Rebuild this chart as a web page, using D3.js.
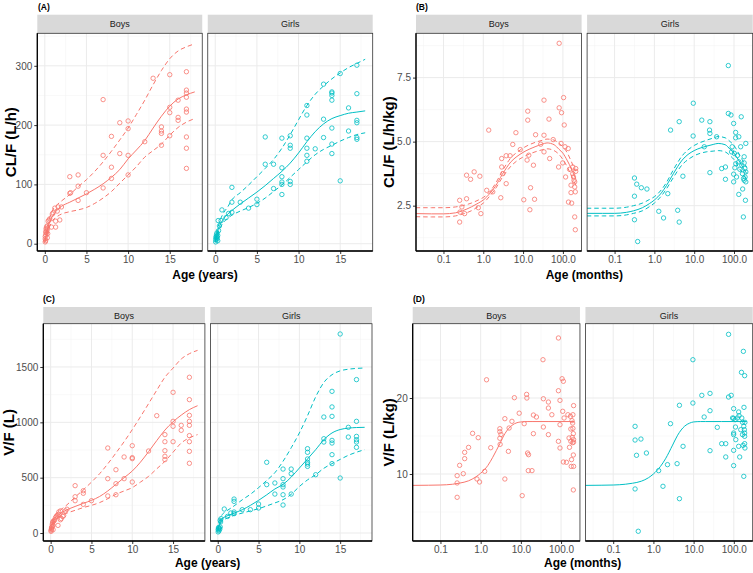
<!DOCTYPE html>
<html>
<head>
<meta charset="utf-8">
<script src="https://cdn.jsdelivr.net/npm/d3@7"></script>
<style>
  body { margin: 0; background: #fff; }
  svg { display: block; }
  text { font-family: "Liberation Sans", Arial, Helvetica, sans-serif; }
</style>
</head>
<body>
<svg id="svg" width="753" height="573"></svg>
<script>
    var sexes = ['Boys', 'Girls'];
    var sexColor = {'Boys': '#F8766D', 'Girls': '#00BFC4'};

    // (A) CL/F (L/h) vs age in years
    var aBoys = [[0.05,3],[0.05,8],[0.05,12],[0.1,15],[0.1,20],[0.15,25],[0.2,28],[0.2,18],[0.25,22],[0.3,30],[0.3,10],[0.1,5],
        [0.4,38],[0.5,40],[0.3,25],[0.35,17],[0.8,28],[1.3,28],[1.8,40],[1,52],[1.2,60],[0.9,50],[1.5,55],[1.6,62],[2,62],
        [1.3,38],[0.6,42],[3,113],[3,85],[3.1,86],[4,116],[4,97],[4,73],[5,86],[7,243],[7,149],[7,94],[8,181],[8,129],[8,110],
        [9,204],[9,152],[10,207],[10,194],[10,149],[10,116],[12,172],[13,279],[14,197],[14,190],[14,186],[14,166],[15,285],
        [15,230],[15,221],[15,182],[16,242],[16,213],[16,208],[17,290],[17,259],[17,254],[17,247],[17,227],[17,222],[17,180],
        [17,161],[17,127]];
    var aGirls = [[0.05,3],[0.05,7],[0.1,10],[0.1,12],[0.15,15],[0.2,8],[0.2,18],[0.3,14],[0.3,5],[0.25,11],[0.4,22],[0.35,39],
        [0.5,30],[0.7,39],[0.8,57],[1.3,44],[1.6,51],[2,95],[2,70],[2,53],[3,70],[4,60],[5,75],[5,66],[6,180],[6,134],[7,134],
        [7,93],[8,178],[8,128],[8,113],[8,104],[8,100],[8,83],[9,182],[9,166],[9,161],[9,105],[9,100],[11,233],[11,217],[11,178],
        [11,161],[11,149],[11,139],[12,160],[13,269],[13,210],[13,179],[14,254],[14,250],[14,242],[14,195],[14,168],[14,152],
        [14,256],[15,287],[15,106],[16,229],[16,190],[17,301],[17,253],[17,208],[17,204],[17,179],[17,176]];
    var yearGrid = [0, 0.1, 0.25, 0.5, 1, 1.5, 2, 3, 4, 5, 6, 7, 8, 9, 10, 11, 12, 13, 14, 15, 16, 17, 18];
    var aBoysMed = [3, 10, 20, 33, 48, 57, 63, 70, 77, 84, 92, 101, 112, 125, 143, 158, 174, 195, 215, 232, 244, 251, 256];
    var aBoysHi = [4, 13, 25, 40, 58, 66, 72, 83, 96, 108, 122, 138, 156, 175, 195, 218, 242, 268, 292, 312, 325, 332, 337];
    var aBoysLo = [2, 8, 15, 26, 40, 46, 50, 54, 57, 61, 68, 77, 88, 102, 116, 130, 146, 157, 168, 183, 196, 205, 211];
    var aGirlsMed = [3, 9, 18, 29, 42, 50, 56, 67, 77, 87, 98, 110, 122, 136, 153, 172, 189, 202, 211, 216, 220, 222, 224];
    var aGirlsHi = [4, 12, 23, 36, 52, 62, 74, 86, 99, 113, 127, 142, 161, 184, 209, 233, 252, 266, 278, 288, 297, 304, 311];
    var aGirlsLo = [2, 7, 14, 24, 36, 43, 48, 55, 61, 68, 77, 88, 99, 112, 125, 138, 150, 159, 166, 173, 179, 184, 187];

    // (B) CL/F (L/h/kg) vs age in months
    var bBoys = [[0.255,1.86],[0.255,2.71],[0.26,2.25],[0.29,2.45],[0.34,2.19],[0.38,3.69],[0.38,2.77],[0.48,3.53],[0.59,3.82],
        [0.75,2.42],[0.82,3.65],[0.87,2.19],[1.22,3.1],[1.37,5.45],[1.73,3.04],[2.75,2.81],[2.9,4.01],[2.9,4.34],[3.1,3.75],
        [3.76,4.45],[3.76,3.36],[4.7,4.45],[5.5,4.89],[6.6,5.35],[8.5,4.69],[10.4,2.73],[12.6,4.28],[13.1,6.19],[13.1,5.84],
        [13.9,4.47],[15.4,3.2],[14.8,2.34],[18.2,4.08],[19.4,2.75],[20.6,5.27],[27.7,4.9],[33.5,6.62],[33.5,5.25],[33.5,4.6],
        [44.7,5.88],[46.5,4.34],[57,5.08],[80.6,6.32],[92.5,6.13],[80.6,8.84],[78,4.01],[90,4.93],[99,4.17],[104,6.72],[108,5.65],
        [113,4.8],[117,3.62],[136,4.73],[138,2.64],[147,3.92],[160,3.01],[160,3.3],[166,2.6],[177,3.75],[190,3.49],[198,2.06],
        [205,1.56],[198,3.43],[210,3.95],[210,3.84],[198,3.23],[177,4.01],[185,3.62],[205,3.04]];
    var bGirls = [[0.316,3.58],[0.316,2.87],[0.316,1.95],[0.36,3.34],[0.38,1.1],[0.47,3.2],[0.65,3.15],[1.29,2.28],[1.7,2.02],
        [2.17,2.97],[2.55,5.45],[3.85,2.32],[4.2,1.86],[4.2,5.78],[5.2,3.65],[9.4,5.22],[9.5,6.5],[15.5,5.84],[17.9,4.8],
        [24.3,5.45],[24.8,5.78],[24.8,5.32],[24.8,3.79],[36.6,5.19],[49,3.95],[61,4.01],[61,3.53],[72,7.97],[72,6.1],[84,6.04],
        [87,4.6],[90,4.8],[98,5.71],[98,3.43],[98,3.73],[102,4.54],[105,3.98],[110,5.36],[110,5.15],[111,4.14],[116,3.62],
        [122,4.46],[132,5.19],[132,4.21],[132,2.94],[140,3.92],[147,4.8],[152,5.97],[157,4.08],[163,3.75],[165,3.15],[172,2.06],
        [174,3.56],[180,4.41],[180,4.17],[187,3.95],[190,3.62],[194,2.71],[198,4.93],[198,3.43],[198,3.82],[180,3.49]];
    var monthGrid = [0.02, 0.05, 0.1, 0.2, 0.3, 0.5, 0.75, 1, 1.5, 2, 3, 5, 7, 10, 20, 30, 40, 60, 80, 100, 130, 160, 190, 210];
    var bBoysMed = [2.19, 2.18, 2.18, 2.22, 2.3, 2.45, 2.6, 2.72, 3.0, 3.25, 3.72, 4.22, 4.42, 4.58, 4.8, 4.9, 4.95, 4.88, 4.7, 4.55, 4.25, 3.97, 3.7, 3.55];
    var bBoysHi = [2.42, 2.42, 2.42, 2.45, 2.5, 2.6, 2.72, 2.82, 3.07, 3.35, 3.85, 4.38, 4.58, 4.75, 4.97, 5.05, 5.1, 5.06, 4.93, 4.8, 4.55, 4.25, 3.98, 3.85];
    var bBoysLo = [2.07, 2.06, 2.06, 2.1, 2.17, 2.3, 2.47, 2.6, 2.9, 3.15, 3.6, 4.05, 4.25, 4.4, 4.6, 4.68, 4.72, 4.65, 4.5, 4.3, 4.0, 3.7, 3.45, 3.3];
    var bGirlsMed = [2.2, 2.2, 2.2, 2.24, 2.3, 2.42, 2.58, 2.72, 3.0, 3.28, 3.75, 4.28, 4.5, 4.65, 4.82, 4.89, 4.93, 4.88, 4.7, 4.55, 4.28, 4.05, 3.85, 3.75];
    var bGirlsHi = [2.4, 2.4, 2.4, 2.44, 2.5, 2.6, 2.74, 2.85, 3.12, 3.4, 3.9, 4.45, 4.68, 4.85, 5.05, 5.14, 5.2, 5.15, 5.0, 4.85, 4.55, 4.3, 4.1, 4.0];
    var bGirlsLo = [2.1, 2.1, 2.1, 2.14, 2.2, 2.3, 2.46, 2.6, 2.88, 3.15, 3.6, 4.1, 4.3, 4.45, 4.6, 4.63, 4.65, 4.6, 4.45, 4.3, 4.0, 3.8, 3.62, 3.55];

    // (C) V/F (L) vs age in years
    var cBoys = [[0.05,15],[0.05,25],[0.1,35],[0.1,45],[0.15,55],[0.2,60],[0.2,80],[0.25,95],[0.3,105],[0.3,30],[0.4,110],
        [0.5,120],[0.6,140],[0.7,150],[0.3,70],[0.9,69],[0.8,160],[1,170],[1,190],[1.2,200],[1.3,130],[1.5,150],[1.6,160],
        [2,215],[1.8,200],[1.2,120],[3,428],[3,328],[3,292],[4,382],[4,359],[4,259],[5,292],[7,491],[7,335],[7,768],[8,572],
        [8,446],[8,346],[9,491],[9,687],[10,461],[10,789],[10,681],[10,672],[12,741],[13,1060],[14,889],[14,825],[14,744],[14,693],
        [14,663],[15,1271],[15,1009],[15,964],[15,825],[16,973],[16,928],[17,1407],[17,1205],[17,1063],[17,1009],[17,973],[17,880],
        [17,825],[17,738],[17,630]];
    var cGirls = [[0.05,10],[0.05,30],[0.1,40],[0.1,50],[0.15,20],[0.2,45],[0.25,35],[0.3,55],[0.35,100],[0.4,130],[0.3,115],
        [0.8,217],[1.2,150],[1.6,181],[2,190],[2,286],[2,307],[2,175],[3,211],[4,211],[5,262],[5,226],[6,639],[6,437],[7,452],
        [7,352],[8,578],[8,491],[8,437],[8,416],[8,346],[8,253],[9,578],[9,536],[9,352],[11,762],[11,729],[11,669],[11,639],
        [11,623],[11,602],[12,527],[13,1048],[13,852],[13,822],[14,1280],[14,1139],[14,1054],[14,837],[14,813],[14,708],[14,627],
        [15,1798],[15,497],[16,955],[16,867],[17,1386],[17,1009],[17,873],[17,843],[17,822],[17,774]];
    var cBoysMed = [20, 50, 90, 130, 165, 190, 210, 240, 268, 295, 330, 380, 440, 500, 560, 640, 735, 835, 930, 1005, 1065, 1115, 1150];
    var cBoysHi = [25, 60, 105, 155, 195, 225, 255, 325, 390, 460, 536, 625, 723, 825, 934, 1050, 1169, 1290, 1407, 1490, 1572, 1620, 1650];
    var cBoysLo = [15, 40, 75, 110, 145, 165, 180, 205, 230, 250, 275, 310, 350, 380, 410, 460, 512, 580, 648, 730, 813, 860, 889];
    var cGirlsMed = [20, 50, 90, 125, 150, 165, 180, 210, 250, 295, 345, 398, 440, 505, 587, 669, 753, 843, 904, 935, 948, 953, 955];
    var cGirlsHi = [25, 60, 105, 160, 195, 220, 245, 300, 350, 410, 475, 545, 648, 770, 904, 1060, 1230, 1360, 1430, 1465, 1480, 1487, 1491];
    var cGirlsLo = [15, 40, 75, 105, 130, 145, 160, 180, 200, 220, 245, 272, 301, 350, 420, 480, 527, 585, 627, 665, 702, 730, 753];

    // (D) V/F (L/kg) vs age in months
    var dBoys = [[0.26,9.78],[0.26,8.82],[0.26,6.93],[0.3,11.14],[0.37,10.04],[0.4,12.02],[0.4,12.85],[0.5,13.5],[0.63,15.35],
        [0.81,9.34],[0.87,14.78],[0.94,8.95],[1.26,10.35],[1.4,22.4],[1.78,13.46],[3,15.96],[3,15.57],[3,14.7],[3.05,13.9],
        [3.2,15.2],[4,9.34],[4,17.28],[4.9,12.98],[5.1,16.05],[6,16.93],[6.9,20.04],[9.1,18],[10.8,7.15],[12.1,16.62],[13.9,20.48],
        [14.1,20],[14.7,12.76],[15.5,12.54],[15.3,10.44],[18.9,10.44],[20.5,17.76],[20.5,15.31],[24.4,17.5],[35.5,25.04],
        [36.3,19.9],[36.3,16.18],[48.4,19.47],[48.4,18.68],[48.4,15.18],[59,17.8],[86,27.9],[86,20.96],[86,14.3],[94,19.69],
        [94,16.49],[94,13.42],[106,22.54],[110,18.25],[114,22.2],[119,17.37],[114,11.58],[136,11.54],[148,17.8],[158,14.74],
        [162,13.51],[171,17.59],[175,15.92],[175,14.3],[179,11],[182,11.89],[187,17.02],[190,14.82],[194,14.12],[197,17.8],
        [197,16],[202,15.31],[205,14.52],[202,12.5],[205,11],[205,19],[202,7.9],[194,16.7],[205,14.2]];
    var dGirls = [[0.35,16.27],[0.35,14.47],[0.35,8.03],[0.38,12.46],[0.42,2.46],[0.49,14.6],[0.67,12.76],[1.35,10.44],[1.73,8.38],
        [2.24,11.23],[2.66,16.62],[3.88,11.36],[4.44,19.04],[4.44,6.75],[5.46,13.64],[9.6,25.04],[9.6,19.34],[16,20.35],[18.3,17.5],
        [25.6,20.61],[25.6,18.33],[25.6,13.07],[38.8,16.14],[50,13.99],[63,13.99],[63,12.24],[74,28.38],[74,20.13],[86,20.35],
        [93,17.37],[99,18.6],[99,17.33],[99,15.39],[99,15.18],[99,13.11],[99,11.1],[108,17.15],[110,16.18],[112,14.52],[123,17.37],
        [132,18.16],[132,13.64],[135,17.68],[140,12.24],[149,15.83],[155,23.38],[158,17.37],[165,16.8],[165,15.18],[170,13.77],
        [173,26.14],[177,9.69],[177,16.27],[179,18.77],[186,22.94],[186,15.39],[186,13.99],[189,13.42],[189,16.8],[183,15.83],
        [186,14.96]];
    var dGrid = [0.02, 0.05, 0.1, 0.2, 0.3, 0.5, 0.75, 1, 1.5, 2, 3, 4, 6, 8, 10, 15, 20, 50, 100, 210];
    var dBoysMed = [8.5, 8.52, 8.55, 8.65, 8.8, 9.1, 9.6, 10.1, 11.1, 12.2, 14.0, 15.3, 16.4, 16.75, 16.85, 16.9, 16.9, 16.9, 16.9, 16.9];
    var dGirlsMed = [8.5, 8.52, 8.55, 8.65, 8.78, 9.05, 9.5, 10.0, 11.0, 12.0, 13.8, 15.1, 16.3, 16.7, 16.85, 16.9, 16.9, 16.9, 16.9, 16.9];

    function zip(xs, ys) {
        return xs.map(function (v, i) { return [v, ys[i]]; });
    }

    var svg = d3.select("#svg");
    var gap = 5.5;
    var fmt0 = d3.format("d"), fmt1 = d3.format(".1f");

    var panels = [
        {tag: '(A)', tagX: 38, stripTop: 14.7, plotTop: 33.3, bottom: 251, x0: 37.3, x1: 372.7,
         log: false, xDomain: [-0.9, 18.9], xTicks: [0, 5, 10, 15], xMinor: [2.5, 7.5, 12.5, 17.5], xFmt: fmt0,
         yDomain: [-12.3, 354.8], yTicks: [0, 100, 200, 300], yMinor: [50, 150, 250, 350], yFmt: fmt0,
         yTitle: 'CL/F (L/h)', yTitleX: 10.5, xTitle: 'Age (years)', xTitleY: 278.5,
         series: {Boys: {pts: aBoys, grid: yearGrid, med: aBoysMed, hi: aBoysHi, lo: aBoysLo},
                  Girls: {pts: aGirls, grid: yearGrid, med: aGirlsMed, hi: aGirlsHi, lo: aGirlsLo}}},
        {tag: '(B)', tagX: 416, stripTop: 14.7, plotTop: 33.3, bottom: 251, x0: 416, x1: 752.7,
         log: true, xDomain: [0.0204, 295], xTicks: [0.1, 1, 10, 100], xMinor: [0.0316, 0.316, 3.16, 31.6], xFmt: fmt1,
         yDomain: [0.73, 9.23], yTicks: [2.5, 5, 7.5], yMinor: [1.25, 3.75, 6.25, 8.75], yFmt: fmt1,
         yTitle: 'CL/F (L/h/kg)', yTitleX: 388.5, xTitle: 'Age (months)', xTitleY: 278.5,
         series: {Boys: {pts: bBoys, grid: monthGrid, med: bBoysMed, hi: bBoysHi, lo: bBoysLo},
                  Girls: {pts: bGirls, grid: monthGrid, med: bGirlsMed, hi: bGirlsHi, lo: bGirlsLo}}},
        {tag: '(C)', tagX: 43, stripTop: 307, plotTop: 323.7, bottom: 541, x0: 43.3, x1: 372,
         log: false, xDomain: [-0.9, 18.9], xTicks: [0, 5, 10, 15], xMinor: [2.5, 7.5, 12.5, 17.5], xFmt: fmt0,
         yDomain: [-72, 1891], yTicks: [0, 500, 1000, 1500], yMinor: [250, 750, 1250, 1750], yFmt: fmt0,
         yTitle: 'V/F (L)', yTitleX: 8.3, xTitle: 'Age (years)', xTitleY: 567,
         series: {Boys: {pts: cBoys, grid: yearGrid, med: cBoysMed, hi: cBoysHi, lo: cBoysLo},
                  Girls: {pts: cGirls, grid: yearGrid, med: cGirlsMed, hi: cGirlsHi, lo: cGirlsLo}}},
        {tag: '(D)', tagX: 413, stripTop: 307, plotTop: 323.7, bottom: 541, x0: 412.7, x1: 752.7,
         log: true, xDomain: [0.0204, 295], xTicks: [0.1, 1, 10, 100], xMinor: [0.0316, 0.316, 3.16, 31.6], xFmt: fmt1,
         yDomain: [1.18, 29.78], yTicks: [10, 20], yMinor: [5, 15, 25], yFmt: fmt0,
         yTitle: 'V/F (L/kg)', yTitleX: 388.5, xTitle: 'Age (months)', xTitleY: 567,
         series: {Boys: {pts: dBoys, grid: dGrid, med: dBoysMed},
                  Girls: {pts: dGirls, grid: dGrid, med: dGirlsMed}}}
    ];

    panels.forEach(function (p, pi) {
        var g = svg.append("g");
        var w = (p.x1 - p.x0 - gap) / 2;
        var y = d3.scaleLinear().domain(p.yDomain).range([p.bottom, p.plotTop]);

        g.append("text")
            .attr("x", p.tagX).attr("y", p.stripTop - 5)
            .attr("font-size", 8.5).attr("font-weight", "bold")
            .text(p.tag);

        sexes.forEach(function (sex, i) {
            var left = i === 0 ? p.x0 : p.x1 - w;
            var x = (p.log ? d3.scaleLog() : d3.scaleLinear()).domain(p.xDomain).range([left, left + w]);
            var col = sexColor[sex];
            var s = p.series[sex];
            var f = g.append("g");

            // strip
            f.append("rect")
                .attr("x", left).attr("y", p.stripTop)
                .attr("width", w).attr("height", p.plotTop - p.stripTop)
                .attr("fill", "#d9d9d9");
            f.append("text")
                .attr("x", left + w / 2).attr("y", (p.stripTop + p.plotTop) / 2 + 3.2)
                .attr("text-anchor", "middle").attr("font-size", 9).attr("fill", "#1a1a1a")
                .text(sex);

            // grid
            var grid = f.append("g");
            grid.selectAll(".ymin").data(p.yMinor).enter().append("line")
                .attr("x1", left).attr("x2", left + w)
                .attr("y1", function (d) { return y(d); }).attr("y2", function (d) { return y(d); })
                .attr("stroke", "#f2f2f2").attr("stroke-width", 0.5);
            grid.selectAll(".xmin").data(p.xMinor).enter().append("line")
                .attr("y1", p.plotTop).attr("y2", p.bottom)
                .attr("x1", function (d) { return x(d); }).attr("x2", function (d) { return x(d); })
                .attr("stroke", "#f2f2f2").attr("stroke-width", 0.5);
            grid.selectAll(".ymaj").data(p.yTicks).enter().append("line")
                .attr("x1", left).attr("x2", left + w)
                .attr("y1", function (d) { return y(d); }).attr("y2", function (d) { return y(d); })
                .attr("stroke", "#ebebeb").attr("stroke-width", 1);
            grid.selectAll(".xmaj").data(p.xTicks).enter().append("line")
                .attr("y1", p.plotTop).attr("y2", p.bottom)
                .attr("x1", function (d) { return x(d); }).attr("x2", function (d) { return x(d); })
                .attr("stroke", "#ebebeb").attr("stroke-width", 1);

            var clipId = "clip" + pi + i;
            f.append("clipPath").attr("id", clipId).append("rect")
                .attr("x", left).attr("y", p.plotTop).attr("width", w).attr("height", p.bottom - p.plotTop);
            var marks = f.append("g").attr("clip-path", "url(#" + clipId + ")");

            var line = d3.line()
                .x(function (d) { return x(d[0]); })
                .y(function (d) { return y(d[1]); })
                .curve(d3.curveMonotoneX);

            marks.selectAll("circle").data(s.pts).enter().append("circle")
                .attr("cx", function (d) { return x(d[0]); })
                .attr("cy", function (d) { return y(d[1]); })
                .attr("r", 2.2)
                .attr("fill", "none").attr("stroke", col).attr("stroke-width", 0.8);

            [s.hi, s.lo].forEach(function (band) {
                if (!band) return;
                marks.append("path")
                    .attr("d", line(zip(s.grid, band)))
                    .attr("fill", "none").attr("stroke", col).attr("stroke-width", 1)
                    .attr("stroke-dasharray", "4.5,3");
            });
            marks.append("path")
                .attr("d", line(zip(s.grid, s.med)))
                .attr("fill", "none").attr("stroke", col).attr("stroke-width", 1);

            // panel border
            f.append("rect")
                .attr("x", left).attr("y", p.plotTop).attr("width", w).attr("height", p.bottom - p.plotTop)
                .attr("fill", "none").attr("stroke", "#333").attr("stroke-width", 0.8);

            // bottom axis
            var xa = f.append("g").attr("transform", "translate(0," + p.bottom + ")")
                .call(d3.axisBottom(x).tickValues(p.xTicks).tickFormat(p.xFmt).tickSize(3).tickPadding(2));
            xa.select(".domain").remove();
            xa.selectAll(".tick line").attr("stroke", "#333");
            xa.selectAll(".tick text").attr("fill", "#4d4d4d").attr("font-size", 10)
                .attr("font-family", '"Liberation Sans", Arial, sans-serif');
            f.append("line")
                .attr("x1", left).attr("x2", left + w).attr("y1", p.bottom).attr("y2", p.bottom)
                .attr("stroke", "#000").attr("stroke-width", 1.3);

            if (i === 0) {
                var ya = f.append("g").attr("transform", "translate(" + left + ",0)")
                    .call(d3.axisLeft(y).tickValues(p.yTicks).tickFormat(p.yFmt).tickSize(3).tickPadding(2));
                ya.select(".domain").remove();
                ya.selectAll(".tick line").attr("stroke", "#333");
                ya.selectAll(".tick text").attr("fill", "#4d4d4d").attr("font-size", 10)
                    .attr("font-family", '"Liberation Sans", Arial, sans-serif');
                f.append("line")
                    .attr("x1", left).attr("x2", left).attr("y1", p.plotTop).attr("y2", p.bottom)
                    .attr("stroke", "#000").attr("stroke-width", 1.3);
            }
        });

        g.append("text")
            .attr("transform", "translate(" + p.yTitleX + "," + ((p.plotTop + p.bottom) / 2) + ") rotate(-90)")
            .attr("text-anchor", "middle").attr("dy", "0.35em")
            .attr("font-size", 15).attr("font-weight", "bold")
            .text(p.yTitle);
        g.append("text")
            .attr("x", (p.x0 + p.x1) / 2).attr("y", p.xTitleY)
            .attr("text-anchor", "middle")
            .attr("font-size", 12).attr("font-weight", "bold")
            .text(p.xTitle);
    });
</script>
</body>
</html>
